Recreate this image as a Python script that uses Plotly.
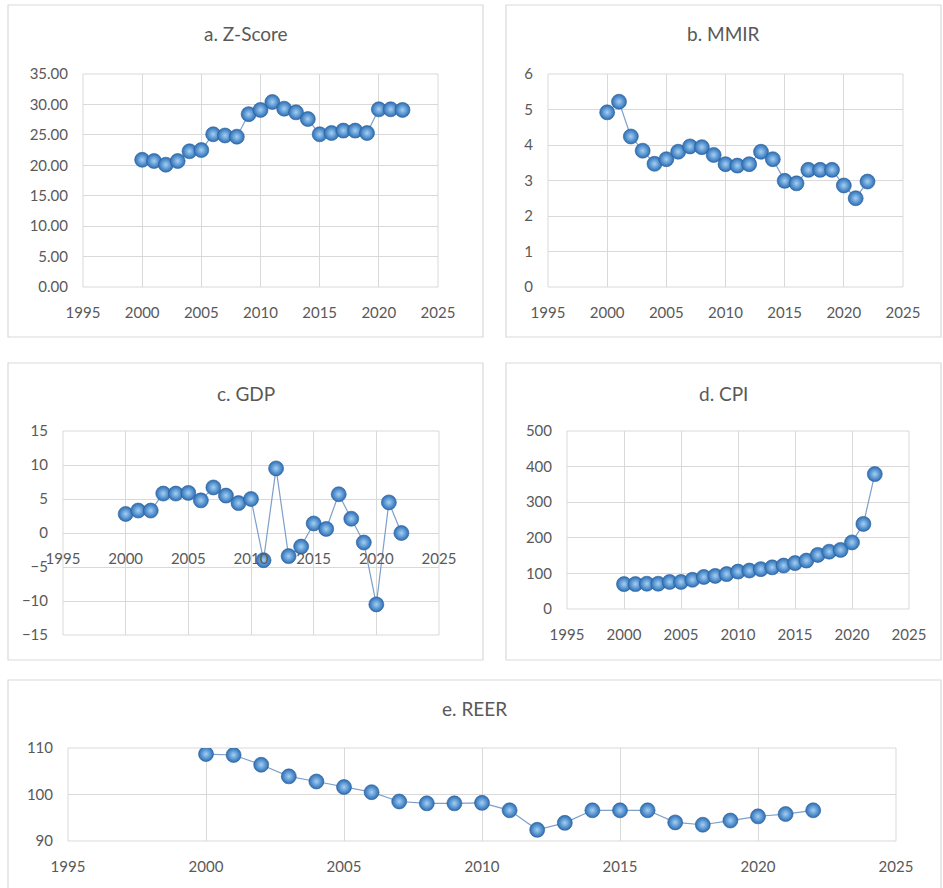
import plotly.graph_objects as go

# ---------------- data ----------------
years = list(range(2000, 2023))

z_score = [20.9, 20.7, 20.1, 20.7, 22.3, 22.5, 25.1, 24.9, 24.7, 28.4, 29.1, 30.4,
           29.3, 28.7, 27.6, 25.1, 25.3, 25.7, 25.7, 25.3, 29.2, 29.2, 29.1]

mmir = [4.92, 5.22, 4.24, 3.84, 3.47, 3.60, 3.81, 3.96, 3.94, 3.72, 3.46, 3.42,
        3.46, 3.81, 3.60, 2.99, 2.92, 3.30, 3.30, 3.30, 2.86, 2.50, 2.97]

gdp = [2.8, 3.3, 3.3, 5.8, 5.8, 5.9, 4.8, 6.7, 5.5, 4.4, 5.0, -4.0,
       9.5, -3.4, -2.0, 1.4, 0.6, 5.7, 2.1, -1.4, -10.5, 4.5, 0.0]

cpi = [70, 70, 71, 71, 76, 76, 82, 90, 93, 98, 105, 108,
       112, 117, 122, 129, 136, 152, 161, 166, 187, 239, 379]

reer = [108.7, 108.5, 106.4, 103.9, 102.8, 101.6, 100.5, 98.5, 98.1, 98.1, 98.2, 96.6,
        92.4, 93.9, 96.6, 96.6, 96.6, 94.0, 93.5, 94.4, 95.3, 95.8, 96.6]

panel_titles = ["a. Z-Score", "b. MMIR", "c. GDP", "d. CPI", "e. REER"]
x_range = [1995, 2025]

# ---------------- styling ----------------
W, H = 943, 888
FONT = "Lato"
TXT = "#595959"
GRID = "#d9d9d9"
BOX = "#d9d9d9"


def px_x(p):
    return p / W


def px_y(p):
    return 1 - p / H


panels = [
    dict(data=z_score, ax="", xd=[83, 438], yd=[74, 287], yr=[0, 35], dt=5, fmt=".2f",
         box=[8, 5, 483, 337], title_y=33),
    dict(data=mmir, ax="2", xd=[548, 903], yd=[74, 287], yr=[0, 6], dt=1, fmt="d",
         box=[506, 5, 941, 337], title_y=33),
    dict(data=gdp, ax="3", xd=[63, 439], yd=[431, 635], yr=[-15, 15], dt=5, fmt="d",
         box=[8, 363, 483, 660], title_y=393, cross_zero=True),
    dict(data=cpi, ax="4", xd=[567, 909], yd=[431, 609], yr=[0, 500], dt=100, fmt="d",
         box=[506, 363, 941, 660], title_y=393),
    dict(data=reer, ax="5", xd=[68, 896], yd=[748, 841], yr=[90, 110], dt=10, fmt="d",
         box=[8, 680, 941, 900], title_y=708),
]

fig = go.Figure()
shapes = []
annotations = []
layout_axes = {}

for i, p in enumerate(panels):
    ax = p["ax"]
    xname = "x" + ax
    yname = "y" + ax
    fig.add_trace(go.Scatter(
        x=years, y=p["data"], xaxis=xname, yaxis=yname,
        mode="lines+markers",
        line=dict(color="#7e9fc9", width=1.2),
        marker=dict(size=15, color="#2a6db5",
                    gradient=dict(type="radial", color="#a3d0f5"),
                    line=dict(color="#2b5e95", width=0.6)),
        showlegend=False, hoverinfo="x+y",
    ))
    xdom = [px_x(p["xd"][0]), px_x(p["xd"][1])]
    ydom = [px_y(p["yd"][1]), px_y(p["yd"][0])]
    xa = dict(domain=xdom, range=x_range, dtick=5, tick0=1995,
              showgrid=True, gridcolor=GRID, gridwidth=1, zeroline=False,
              showline=False, ticks="outside", ticklen=12,
              tickcolor="rgba(0,0,0,0)", automargin=False,
              tickfont=dict(family=FONT, size=15, color=TXT),
              anchor=yname, fixedrange=True)
    if p.get("cross_zero"):
        frac = (0 - p["yr"][0]) / (p["yr"][1] - p["yr"][0])
        xa["anchor"] = "free"
        xa["position"] = ydom[0] + frac * (ydom[1] - ydom[0])
    ya = dict(domain=ydom, range=p["yr"], dtick=p["dt"], tick0=p["yr"][0],
              tickformat=p["fmt"], showgrid=True, gridcolor=GRID, gridwidth=1,
              zeroline=False, showline=False, ticks="outside", ticklen=11,
              tickcolor="rgba(0,0,0,0)", automargin=False,
              tickfont=dict(family=FONT, size=15, color=TXT),
              anchor=xname, fixedrange=True)
    layout_axes["xaxis" + ax] = xa
    layout_axes["yaxis" + ax] = ya

    # plot-area frame
    shapes.append(dict(type="rect", xref=xname + " domain", yref=yname + " domain",
                       x0=0, x1=1, y0=0, y1=1, line=dict(color=GRID, width=1),
                       layer="below"))
    # chart box
    b = p["box"]
    shapes.append(dict(type="rect", xref="paper", yref="paper",
                       x0=px_x(b[0]), x1=px_x(b[2]), y0=px_y(b[3]), y1=px_y(b[1]),
                       line=dict(color=BOX, width=1.2), layer="below"))
    annotations.append(dict(text=panel_titles[i], xref="paper", yref="paper",
                            x=px_x((b[0] + b[2]) / 2), y=px_y(p["title_y"]),
                            xanchor="center", yanchor="middle", showarrow=False,
                            font=dict(family=FONT, size=19, color=TXT)))

fig.update_layout(
    width=W, height=H,
    margin=dict(l=0, r=0, t=0, b=0, pad=0, autoexpand=False),
    paper_bgcolor="white", plot_bgcolor="white",
    font=dict(family=FONT, color=TXT),
    shapes=shapes, annotations=annotations,
    **layout_axes,
)

fig.write_html("out.html", config={"displayModeBar": False},
               post_script="document.body.style.margin='0';")
